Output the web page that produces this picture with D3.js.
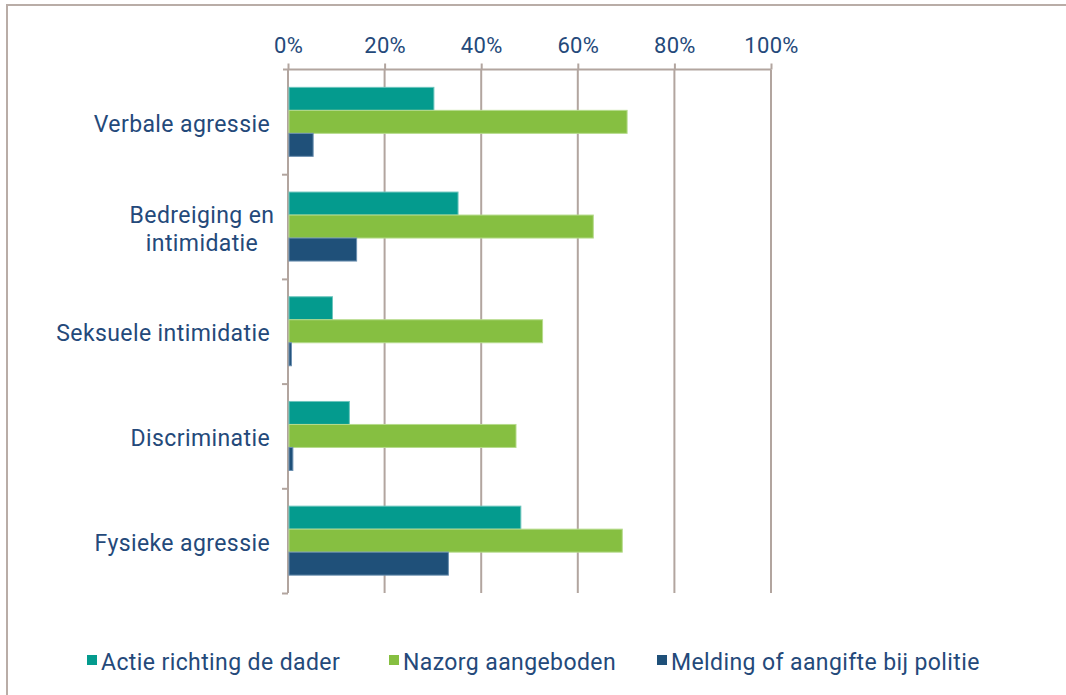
<!DOCTYPE html>
<html>
<head>
  <meta charset="utf-8">
  <title>Agressie en opvolging</title>
  <style>
    body { margin: 0; background: #fff; }
    svg text { font-family: Roboto, "DejaVu Sans", sans-serif; fill: #24497a; }
  </style>
</head>
<body>
<svg width="1066" height="695"></svg>
<script src="https://d3js.org/d3.v7.min.js"></script>
<script>

  var categories = [
    ['Verbale agressie'],
    ['Bedreiging en', 'intimidatie'],
    ['Seksuele intimidatie'],
    ['Discriminatie'],
    ['Fysieke agressie']
  ]
  var seriesNames = ['Actie richting de dader', 'Nazorg aangeboden', 'Melding of aangifte bij politie']
  var actie = [30, 35, 9, 12.5, 48]
  var nazorg = [70, 63, 52.5, 47, 69]
  var melding = [5, 14, 0.5, 0.8, 33]
  var ticks = [0, 20, 40, 60, 80, 100]

  var colors = ['#049b8e', '#86bf41', '#1f5079']
  var edge = ['#6cc5bd', '#b6db8c', '#6b8fb0']
  var gridColor = '#b2a59f'

  var svg = d3.select('svg')
  var margin = {top: 69.5, left: 288, bottom: 102, right: 0}
  var plotW = 483
  var plotH = 695 - margin.top - margin.bottom

  // frame round the chart
  svg.append('path')
    .attr('d', 'M7,695V5H1066')
    .attr('fill', 'none')
    .attr('stroke', '#b9ada7')
    .attr('stroke-width', 2)

  var g = svg.append('g').attr('transform', 'translate(' + margin.left + ',' + margin.top + ')')

  var x = d3.scaleLinear().domain([0, 100]).range([0, plotW])
  var y = d3.scaleBand().domain(d3.range(categories.length)).range([0, plotH])
  var inner = d3.scaleBand().domain([0, 1, 2]).range([y.bandwidth() / 2 - 34.5, y.bandwidth() / 2 + 34.5])

  // gridlines
  g.selectAll('.grid').data(ticks.slice(1)).enter().append('line')
    .attr('x1', function (d) { return x(d) }).attr('x2', function (d) { return x(d) })
    .attr('y1', 0).attr('y2', plotH)
    .attr('stroke', gridColor).attr('stroke-width', 2)

  // top axis
  var xAxisG = g.append('g')
    .call(d3.axisTop(x).tickValues(ticks).tickSize(6).tickSizeOuter(0).tickFormat(function (d) { return d + '%' }))
  xAxisG.select('.domain').attr('stroke', gridColor).attr('stroke-width', 2).attr('d', 'M-5,0H' + plotW)
  xAxisG.selectAll('.tick line').attr('stroke', gridColor).attr('stroke-width', 2)
  xAxisG.selectAll('.tick text').attr('y', -17)
    .style('font-size', '22px').style('letter-spacing', '0.3px')

  // left axis
  var yAxisG = g.append('g')
    .call(d3.axisLeft(d3.scaleLinear().domain([0, categories.length]).range([0, plotH]))
      .tickValues(d3.range(1, categories.length + 1)).tickSize(6).tickSizeOuter(0).tickFormat(''))
  yAxisG.select('.domain').attr('stroke', gridColor).attr('stroke-width', 2).attr('d', 'M0,0V' + plotH)
  yAxisG.selectAll('.tick line').attr('stroke', gridColor).attr('stroke-width', 2)

  // bars
  var series = [actie, nazorg, melding]
  series.forEach(function (vals, s) {
    g.selectAll('.bar' + s).data(vals).enter().append('rect')
      .attr('x', x(0) + 1)
      .attr('y', function (d, i) { return y(i) + inner(s) })
      .attr('width', function (d) { return Math.max(x(d) - x(0), 1) })
      .attr('height', inner.bandwidth())
      .attr('fill', colors[s])
      .attr('stroke', edge[s])
      .attr('stroke-width', 1)
  })

  // category labels
  categories.forEach(function (lines, i) {
    var cy = y(i) + y.bandwidth() / 2
    var t = g.append('text')
      .attr('text-anchor', lines.length > 1 ? 'middle' : 'end')
      .style('font-size', '23px')
      .style('letter-spacing', '0.4px')
    lines.forEach(function (line, k) {
      t.append('tspan')
        .attr('x', lines.length > 1 ? -86 : -18)
        .attr('y', cy + 2 + (k - (lines.length - 1) / 2) * 28)
        .attr('dy', '0.35em')
        .text(line)
    })
  })

  // legend
  var legendX = [87, 389, 657]
  var legend = svg.append('g')
  seriesNames.forEach(function (name, i) {
    legend.append('rect')
      .attr('x', legendX[i]).attr('y', 655)
      .attr('width', 10).attr('height', 10)
      .attr('fill', colors[i])
    legend.append('text')
      .attr('x', legendX[i] + 14).attr('y', 662)
      .attr('dy', '0.35em')
      .style('font-size', '23px')
      .style('letter-spacing', '0.4px')
      .text(name)
  })

</script>
</body>
</html>
